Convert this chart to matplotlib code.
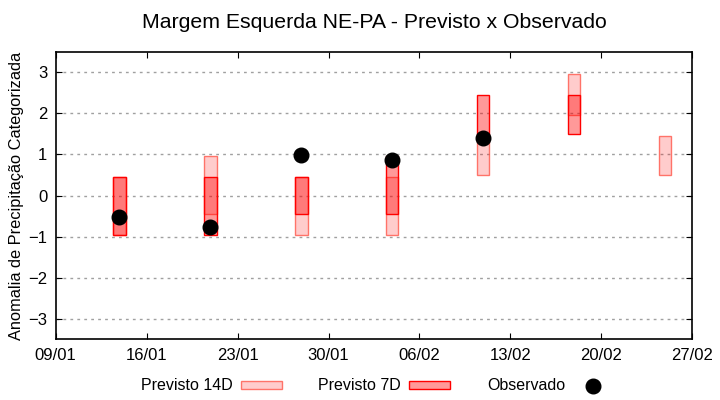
import matplotlib
matplotlib.use('Agg')
import matplotlib.pyplot as plt
import matplotlib.dates as m_dates
from matplotlib.patches import Patch
from matplotlib.lines import Line2D
import numpy as np
import pandas as pd

# ------------------------------------------------------ #
# Data
# ------------------------------------------------------ #
dates_14d = ['2024-01-14', '2024-01-21', '2024-01-28', '2024-02-04',
             '2024-02-11', '2024-02-18', '2024-02-25']
low_14d = [-0.95, -0.45, -0.95, -0.95, 0.5, 1.95, 0.5]
high_14d = [0.45, 0.95, 0.45, 0.45, 1.45, 2.95, 1.45]

dates_7d = ['2024-01-14', '2024-01-21', '2024-01-28', '2024-02-04',
            '2024-02-11', '2024-02-18']
low_7d = [-0.95, -0.95, -0.45, -0.45, 1.45, 1.5]
high_7d = [0.45, 0.45, 0.45, 0.95, 2.45, 2.45]

dates_obs = ['2024-01-14', '2024-01-21', '2024-01-28', '2024-02-04',
             '2024-02-11']
obs = [-0.52, -0.76, 0.98, 0.86, 1.40]

x_ticks = pd.date_range('2024-01-09', '2024-02-27', freq='7D')
y_ticks = [-3, -2, -1, 0, 1, 2, 3]

# ------------------------------------------------------ #
# Plot
# ------------------------------------------------------ #
plt.rcParams['font.family'] = ['Liberation Sans', 'DejaVu Sans']

fig = plt.figure(figsize=(7.2, 4.0), dpi=100)
ax = fig.add_axes([55.7 / 720, 1 - 339.3 / 400, (692.3 - 55.7) / 720, (339.3 - 51.7) / 400])

bar_w = 0.97
c14_fill = (1, 0, 0, 0.2)
c14_edge = (1, 0.3, 0.25, 0.75)
c7_fill = (1, 0, 0, 0.4)
c7_edge = (1, 0, 0, 1)

d14 = m_dates.date2num(pd.to_datetime(dates_14d)) - 0.1
d7 = m_dates.date2num(pd.to_datetime(dates_7d)) - 0.1
dob = m_dates.date2num(pd.to_datetime(dates_obs)) - 0.1

ax.bar(d14, np.array(high_14d) - np.array(low_14d), bottom=low_14d, width=bar_w,
       facecolor=c14_fill, edgecolor=c14_edge, linewidth=1.0, zorder=2)
ax.bar(d7, np.array(high_7d) - np.array(low_7d), bottom=low_7d, width=bar_w,
       facecolor=c7_fill, edgecolor=c7_edge, linewidth=1.0, zorder=3)
ax.plot(dob, obs, 'o', color='black', markersize=10.5, zorder=4)

ax.set_ylim(-3.5, 3.5)
ax.set_yticks(y_ticks)
ax.set_xlim(m_dates.date2num(x_ticks[0]), m_dates.date2num(x_ticks[-1]))
ax.set_xticks(m_dates.date2num(x_ticks))
ax.xaxis.set_major_formatter(m_dates.DateFormatter('%d/%m'))
ax.tick_params(direction='in', length=4, top=True, right=True, labelsize=12, pad=6)
ax.grid(axis='y', color='#a0a0a0', linestyle=(0, (2, 3)), linewidth=1)
for sp in ax.spines.values():
    sp.set_linewidth(1.2)

ax.set_ylabel('Anomalia de Precipitação Categorizada', fontsize=11.8, labelpad=3)
ax.set_title('Margem Esquerda NE-PA - Previsto x Observado', fontsize=15.3, pad=17)

handles = [Patch(facecolor=c14_fill, edgecolor=c14_edge, linewidth=1.0),
           Patch(facecolor=c7_fill, edgecolor=c7_edge, linewidth=1.0),
           Line2D([], [], marker='o', color='black', linestyle='none', markersize=10.5)]
labels = ['Previsto 14D', 'Previsto 7D', 'Observado']
fig.legend(handles, labels, loc='center', bbox_to_anchor=(377.5 / 720, 1 - 386 / 400), ncol=3,
           frameon=False, markerfirst=False, fontsize=11.5, handlelength=2.56,
           handleheight=0.375, handletextpad=0.5, columnspacing=2.3,
           borderpad=0, borderaxespad=0)

fig.savefig('out.png', dpi=100)
